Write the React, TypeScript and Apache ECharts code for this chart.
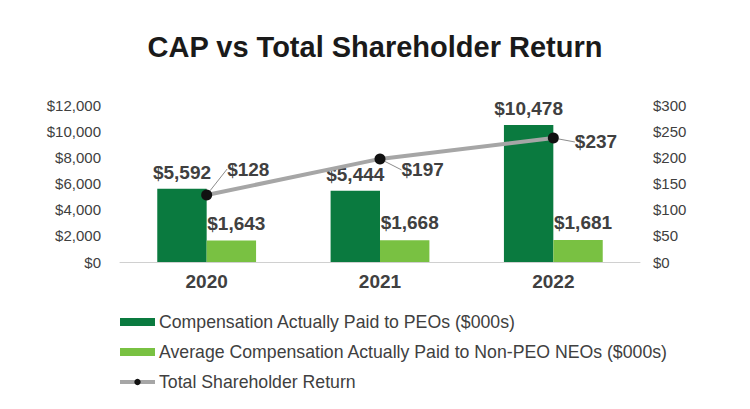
import React, { useEffect, useRef } from "react";
import * as echarts from "echarts";

const years = ["2020", "2021", "2022"];
const peoCap = [5592, 5444, 10478];
const neoCap = [1643, 1668, 1681];
const tsr = [128, 197, 237];

const FONT = "'Liberation Sans', Arial, sans-serif";
const TEXT = "#404040";

const tsrLabelOffsets = [
  { dx: 15, dy: -26 },
  { dx: 16, dy: 11 },
  { dx: 16, dy: 4 },
];

export default function App() {
  const ref = useRef<HTMLDivElement>(null);
  useEffect(() => {
    document.body.style.margin = "0";
    if (!ref.current) return;
    const chart = echarts.init(ref.current, null, { renderer: "svg" });
    const money = (v: number) => "$" + v.toLocaleString("en-US");
    chart.setOption({
      animation: false,
      backgroundColor: "#ffffff",
      textStyle: { fontFamily: FONT },
      title: {
        text: "CAP vs Total Shareholder Return",
        left: "center",
        top: 27,
        textStyle: { fontFamily: FONT, fontSize: 29, fontWeight: "bold", color: "#1a1a1a" },
      },
      grid: { left: 120, right: 110, top: 105, bottom: 147 },
      legend: {
        orient: "vertical",
        left: 113,
        top: 308,
        itemGap: 12,
        itemWidth: 35,
        itemHeight: 8,
        textStyle: { fontFamily: FONT, fontSize: 17.7, color: TEXT, padding: [0, 0, 0, -1] },
        data: [
          { name: "Compensation Actually Paid to PEOs ($000s)", icon: "rect" },
          { name: "Average Compensation Actually Paid to Non-PEO NEOs ($000s)", icon: "rect" },
          {
            name: "Total Shareholder Return",
            lineStyle: { width: 4, color: "#a6a6a6" },
            itemStyle: { color: "#111111" },
          },
        ],
      },
      xAxis: {
        type: "category",
        data: years,
        axisTick: { show: false },
        axisLine: { lineStyle: { color: "#d0d0d0", width: 1 } },
        axisLabel: { fontFamily: FONT, fontSize: 19, fontWeight: "bold", color: TEXT, margin: 10 },
      },
      yAxis: [
        {
          type: "value",
          min: 0,
          max: 12000,
          interval: 2000,
          splitLine: { show: false },
          axisLabel: {
            fontFamily: FONT,
            fontSize: 15,
            color: TEXT,
            margin: 19,
            formatter: (v: number) => money(v),
          },
        },
        {
          type: "value",
          min: 0,
          max: 300,
          interval: 50,
          splitLine: { show: false },
          axisLabel: {
            fontFamily: FONT,
            fontSize: 15,
            color: TEXT,
            margin: 13,
            formatter: (v: number) => "$" + v,
          },
        },
      ],
      series: [
        {
          name: "Compensation Actually Paid to PEOs ($000s)",
          type: "bar",
          data: peoCap,
          itemStyle: { color: "#0a7a3f" },
          barGap: "0%",
          barCategoryGap: "43%",
          label: {
            show: true,
            position: "top",
            distance: 7,
            fontFamily: FONT,
            fontSize: 19,
            fontWeight: "bold",
            color: TEXT,
            formatter: (p: any) => money(p.value),
          },
        },
        {
          name: "Average Compensation Actually Paid to Non-PEO NEOs ($000s)",
          type: "bar",
          data: neoCap,
          itemStyle: { color: "#79c142" },
          label: {
            show: true,
            position: "top",
            distance: 8,
            offset: [5, 0],
            fontFamily: FONT,
            fontSize: 19,
            fontWeight: "bold",
            color: TEXT,
            formatter: (p: any) => money(p.value),
          },
        },
        {
          name: "Total Shareholder Return",
          type: "line",
          yAxisIndex: 1,
          data: tsr,
          symbol: "circle",
          symbolSize: 11,
          itemStyle: { color: "#111111" },
          lineStyle: { color: "#a6a6a6", width: 4 },
          label: {
            show: true,
            position: "right",
            distance: 0,
            fontFamily: FONT,
            fontSize: 19,
            fontWeight: "bold",
            color: TEXT,
            formatter: (p: any) => "$" + p.value,
          },
          labelLine: { show: true, lineStyle: { color: "#8c8c8c", width: 1 } },
          labelLayout: (params: any) => tsrLabelOffsets[params.dataIndex] || {},
          z: 5,
        },
      ],
    });
    return () => chart.dispose();
  }, []);
  return <div ref={ref} style={{ width: 750, height: 409 }} />;
}
